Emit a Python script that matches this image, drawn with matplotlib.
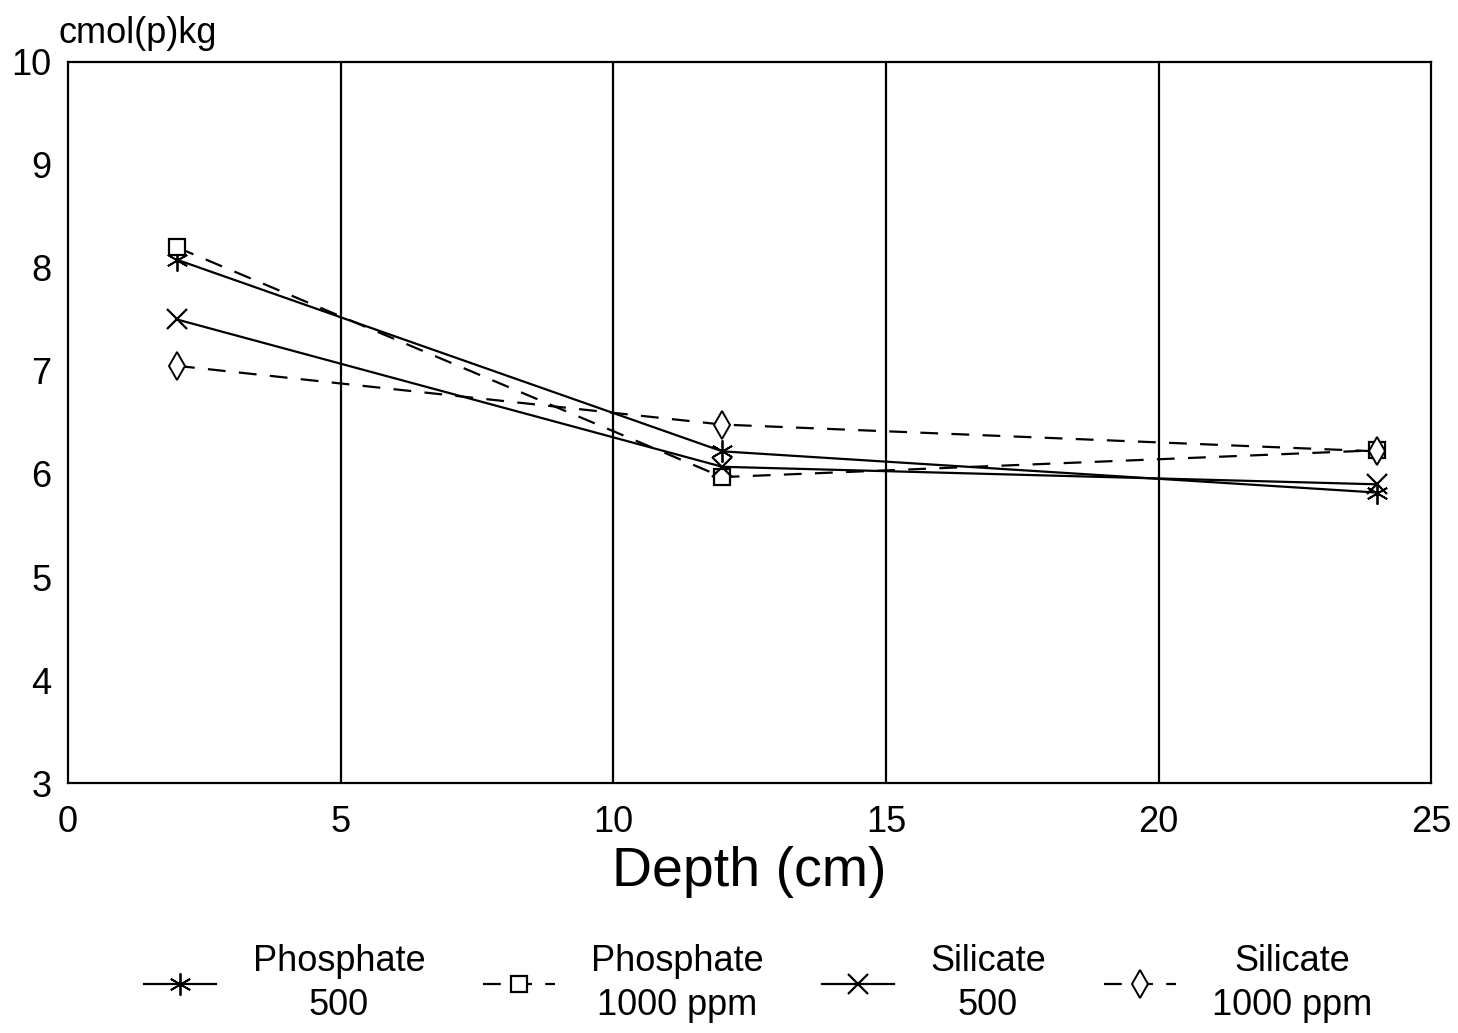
import matplotlib
matplotlib.use("Agg")
import matplotlib.pyplot as plt

plt.rcParams['font.family'] = ['Liberation Sans', 'DejaVu Sans']

depth = [2, 12, 24]
phosphate_500 = [8.08, 6.22, 5.82]
phosphate_1000 = [8.20, 5.97, 6.23]
silicate_500 = [7.50, 6.07, 5.90]
silicate_1000 = [7.05, 6.48, 6.22]
labels = ["Phosphate\n500", "Phosphate\n1000 ppm", "Silicate\n500", "Silicate\n1000 ppm"]
xticks = [0, 5, 10, 15, 20, 25]
yticks = [3, 4, 5, 6, 7, 8, 9, 10]

fig = plt.figure(figsize=(14.58, 10.33), dpi=100)
ax = fig.add_axes([0.0466, 0.242, 0.935, 0.698])

ax.plot(depth, phosphate_500, color='black', lw=1.6, ls='-', marker=(6, 2, 0), ms=16, mew=1.3, label=labels[0])
ax.plot(depth, phosphate_1000, color='black', lw=1.6, ls=(0, (8, 6)), marker='s', ms=12, mfc='white', mew=1.6, label=labels[1])
ax.plot(depth, silicate_500, color='black', lw=1.6, ls='-', marker='x', ms=14, mew=1.6, label=labels[2])
ax.plot(depth, silicate_1000, color='black', lw=1.6, ls=(0, (8, 6)), marker='d', ms=14, mfc='white', mew=1.4, label=labels[3])

ax.set_xlim(0, 25)
ax.set_ylim(3, 10)
ax.set_xticks(xticks)
ax.set_yticks(yticks)
ax.tick_params(length=0, labelsize=26, pad=16)
ax.tick_params(axis='y', pad=12)
for x in [5, 10, 15, 20]:
    ax.axvline(x, color='black', lw=1.6)
for s in ax.spines.values():
    s.set_linewidth(1.6)

ax.set_xlabel("Depth (cm)", fontsize=40, labelpad=4)
fig.text(0.040, 0.968, "cmol(p)kg", fontsize=26, ha='left', va='center')

leg = fig.legend(loc='lower center', bbox_to_anchor=(0.52, -0.022), ncol=4, frameon=False,
                 fontsize=26, handlelength=2.0, columnspacing=1.6, handletextpad=1.0)
for t in leg.get_texts():
    t.set_multialignment('center')
    t.set_linespacing(1.35)

fig.savefig("out.png", dpi=100, facecolor='white')
